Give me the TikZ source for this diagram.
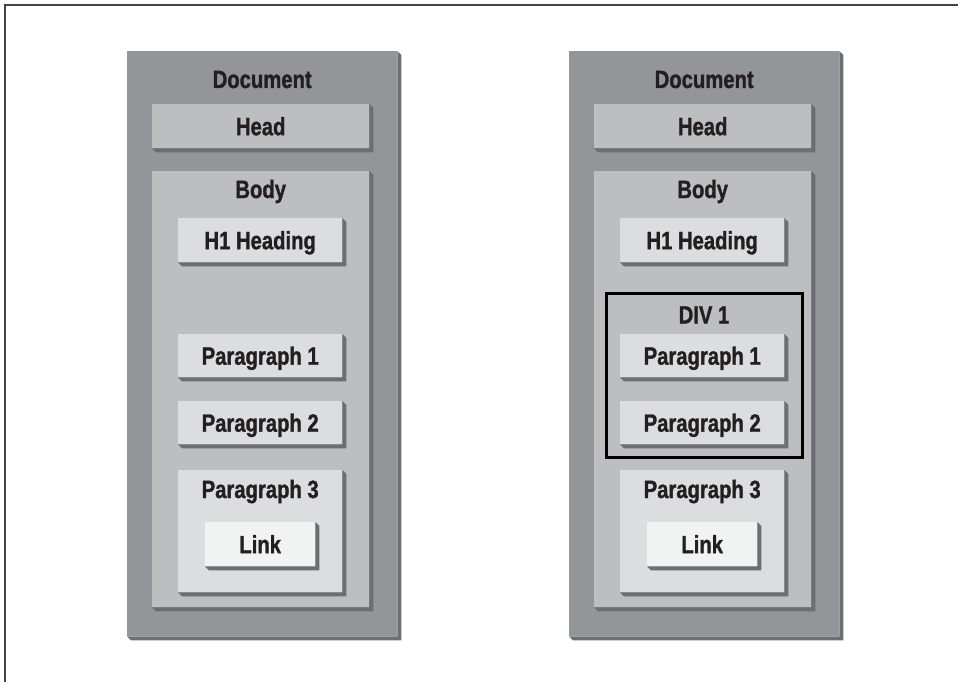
\documentclass[tikz,border=0pt]{standalone}
\usepackage{fontspec}
\usepackage{xcolor}
\usetikzlibrary{positioning}

\newfontfamily\boxfont[FakeStretch=0.81, BoldFeatures={FakeBold=1.2}]{Liberation Sans}

\definecolor{docgray}{HTML}{939598}
\definecolor{bodygray}{HTML}{BCBEC0}
\definecolor{paragray}{HTML}{DCDDDE}
\definecolor{linkgray}{HTML}{F1F2F2}
\definecolor{shadegray}{HTML}{6D6E71}
\definecolor{inkblack}{HTML}{231F20}
\definecolor{framegray}{HTML}{444444}

% drop shadow with cut corners, drawn after the box
\newcommand{\boxshade}[1]{%
  \fill[shadegray] (#1.south west) -- ++(4,4) -- ([shift={(4,4)}]#1.south east)
    -- ([shift={(4,4)}]#1.north east) -- (#1.north east) -- (#1.south east) -- cycle;}

\tikzset{
  box/.style={rectangle, inner sep=0pt, anchor=north west, text=inkblack,
    font=\boxfont\fontsize{25}{28}\selectfont\bfseries, text height=18pt, text depth=0pt},
  docbox/.style={box, fill=docgray},
  bodybox/.style={box, fill=bodygray},
  parabox/.style={box, fill=paragray},
  linkbox/.style={box, fill=linkgray},
  divbox/.style={box, draw=black, line width=3pt},
  lbl/.style={anchor=base, inner sep=0pt, text=inkblack,
    font=\boxfont\fontsize{25}{28}\selectfont\bfseries},
}

\begin{document}
\begin{tikzpicture}[x=1pt, y=-1pt]
    \useasboundingbox (0,0) rectangle (958,682);
    \draw[framegray, line width=1.5pt] (5,682) -- (5,5) -- (958,5);

    % left tree
    \node[docbox, minimum width=270pt, minimum height=585pt] (docA) at (127,51) {};
    \boxshade{docA}
    \node[lbl] (docAtxt) at ([yshift=-37pt]docA.north) {Document};
    \node[bodybox, minimum width=217pt, minimum height=44pt] (headA) at (152,104) {Head};
    \boxshade{headA}
    \node[bodybox, minimum width=217pt, minimum height=436pt] (bodyA) at (152,171) {};
    \boxshade{bodyA}
    \node[lbl] (bodyAtxt) at ([yshift=-27pt]bodyA.north) {Body};
    \node[parabox, minimum width=164pt, minimum height=44pt] (hA) at (178,218) {H1 Heading};
    \boxshade{hA}
    \node[parabox, minimum width=164pt, minimum height=43pt] (parOneA) at (178,334) {Paragraph 1};
    \boxshade{parOneA}
    \node[parabox, minimum width=164pt, minimum height=43pt] (parTwoA) at (178,401) {Paragraph 2};
    \boxshade{parTwoA}
    \node[parabox, minimum width=164pt, minimum height=122pt] (parThreeA) at (178,470) {};
    \boxshade{parThreeA}
    \node[lbl] (parThreeAtxt) at ([yshift=-28pt]parThreeA.north) {Paragraph 3};
    \node[linkbox, minimum width=110pt, minimum height=44pt] (linkA) at (205,522) {Link};
    \boxshade{linkA}

    % right tree, with the div
    \node[docbox, minimum width=270pt, minimum height=585pt] (docB) at (569,51) {};
    \boxshade{docB}
    \node[lbl] (docBtxt) at ([yshift=-37pt]docB.north) {Document};
    \node[bodybox, minimum width=217pt, minimum height=44pt] (headB) at (594,104) {Head};
    \boxshade{headB}
    \node[bodybox, minimum width=217pt, minimum height=436pt] (bodyB) at (594,171) {};
    \boxshade{bodyB}
    \node[lbl] (bodyBtxt) at ([yshift=-27pt]bodyB.north) {Body};
    \node[parabox, minimum width=164pt, minimum height=44pt] (hB) at (620,218) {H1 Heading};
    \boxshade{hB}
    \node[divbox, minimum width=196pt, minimum height=164pt] (divB) at (604.5,291.5) {};
    \node[lbl] (divBtxt) at ([yshift=-32pt]divB.north) {DIV 1};
    \node[parabox, minimum width=164pt, minimum height=43pt] (parOneB) at (620,334) {Paragraph 1};
    \boxshade{parOneB}
    \node[parabox, minimum width=164pt, minimum height=43pt] (parTwoB) at (620,401) {Paragraph 2};
    \boxshade{parTwoB}
    \node[parabox, minimum width=164pt, minimum height=122pt] (parThreeB) at (620,470) {};
    \boxshade{parThreeB}
    \node[lbl] (parThreeBtxt) at ([yshift=-28pt]parThreeB.north) {Paragraph 3};
    \node[linkbox, minimum width=110pt, minimum height=44pt] (linkB) at (647,522) {Link};
    \boxshade{linkB}
\end{tikzpicture}
\end{document}
